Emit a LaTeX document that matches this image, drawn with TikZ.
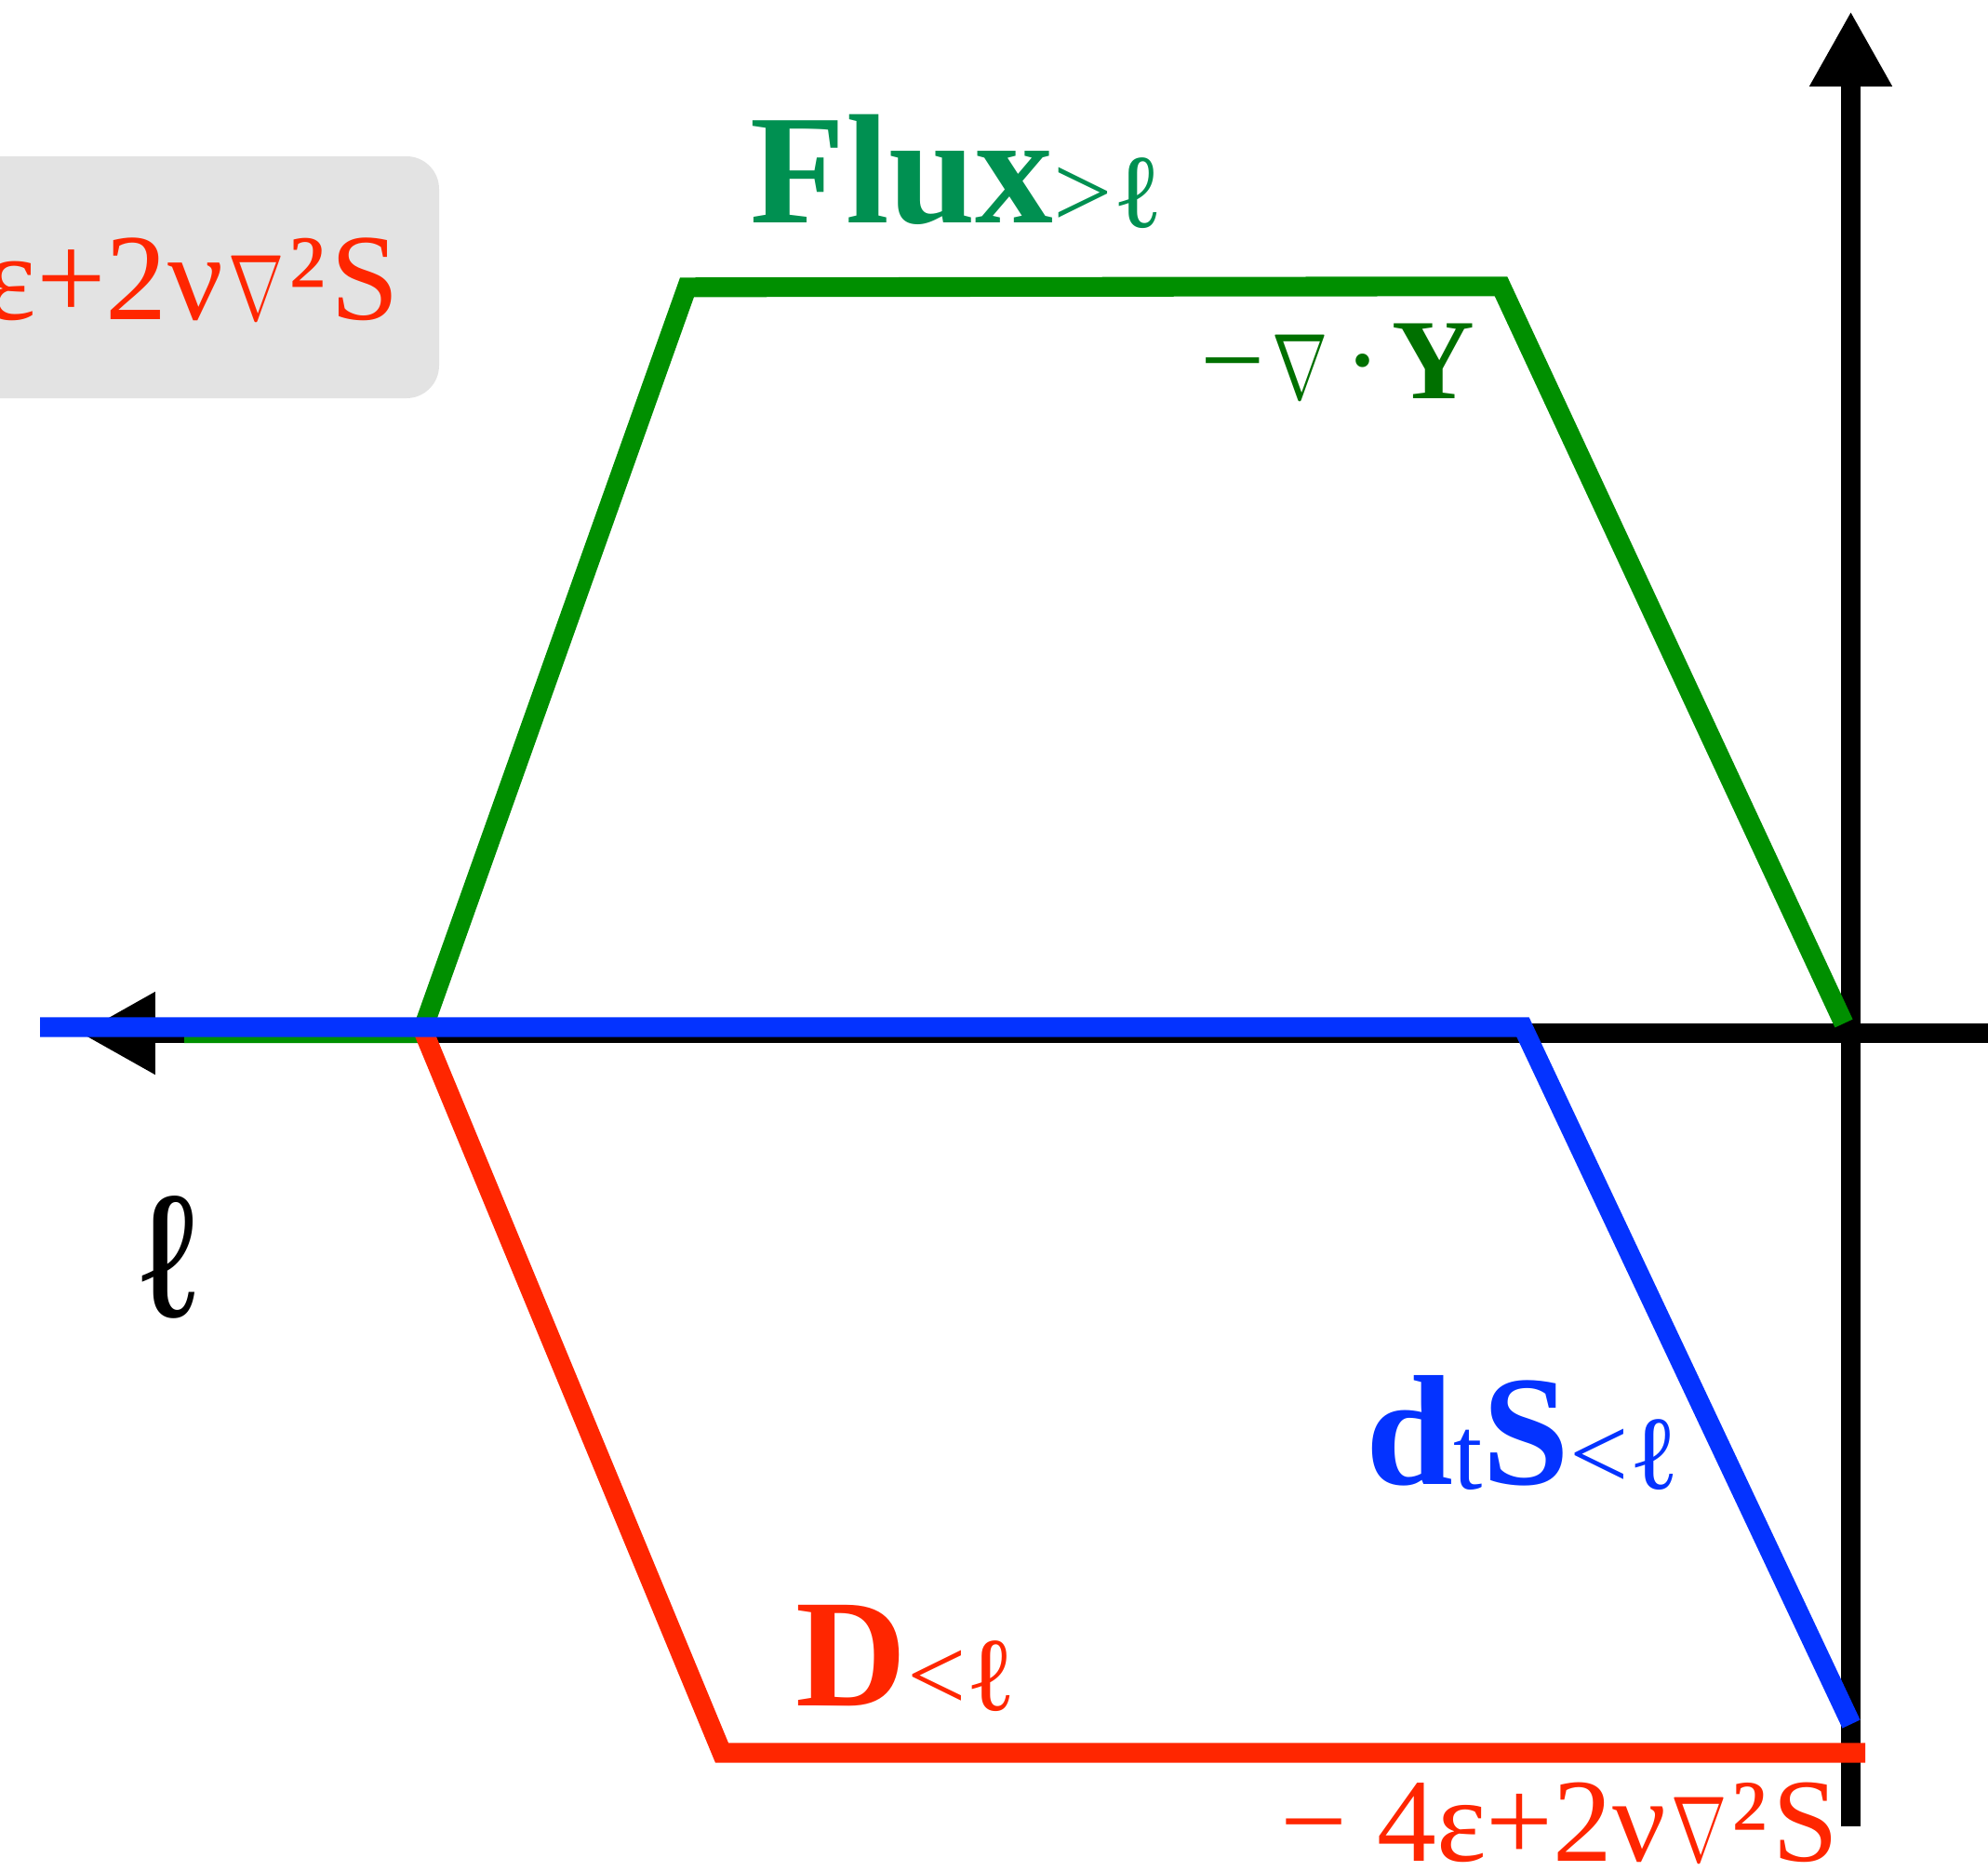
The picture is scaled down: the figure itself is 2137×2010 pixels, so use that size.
\documentclass[tikz,border=0pt]{standalone}
\usepackage{fontspec}
\setmainfont{Liberation Serif}
\newfontfamily\fuenteSans{Liberation Sans}
\usetikzlibrary{arrows.meta}
\definecolor{Rojo}{HTML}{FF2600}
\definecolor{Azul}{HTML}{0433FF}
\definecolor{Verde}{HTML}{008F00}
\definecolor{VerdeFlux}{HTML}{009051}
\definecolor{VerdeOscuro}{HTML}{007000}
\definecolor{Gris}{HTML}{E3E3E3}
\newcommand{\tam}[1]{\fontsize{#1}{#1}\selectfont}
\newcommand{\subind}[1]{\raisebox{-1.5pt}{\normalfont\tam{32}#1}}
\newcommand{\nab}{\scalebox{2.05}[2.85]{\normalsize$\nabla$}}
\newcommand{\lapS}{ν\hspace{1.5pt}\nab\hspace{1.5pt}²\hspace{1.5pt}S}

\begin{document}
\begin{tikzpicture}[
  x=0.1mm,y=-0.1mm,
  eje/.style={line width=6pt,black},
  flecha/.style={-{Triangle[length=23pt,width=23.6pt]}},
  traza/.style={line width=6pt},
  etiqueta/.style={inner sep=0pt}
]
  \useasboundingbox (0,0) rectangle (2137,2010);
  % Caja gris, cortada por el borde izquierdo
  \fill[Gris,rounded corners=10pt] (-150,168) rectangle (472,428);
  \node[etiqueta,text=Rojo,anchor=base east] (caja) at (430,343)
    {\tam{37.7}ε+2\lapS};

  % Ejes
  \draw[eje,flecha] (2160,1110.5)--(86,1110.5);
  \draw[eje,flecha] (1989.5,1963)--(1989.5,12);
  \node[etiqueta] (ell) at (182,1351) {\fuenteSans\tam{53}ℓ};

  % Trazas: flujo (verde), disipacion (rojo), variacion temporal (azul)
  \draw[traza,Verde] (198,1110.5)--(453,1110.5)--(738.5,308.8)
    --(1613.5,307.8)--(1982,1100);
  \draw[traza,Rojo] (455,1108)--(776,1884)--(2005,1884);
  \draw[traza,Azul] (43,1104)--(1637,1104)--(1990,1853);

  % Etiquetas
  \node[etiqueta,text=VerdeFlux,anchor=base west] (flux) at (806,239)
    {\bfseries\tam{47.7}Flux\subind{>ℓ}};
  \node[etiqueta,text=VerdeOscuro,anchor=base west] (divY) at (1290,428)
    {\tam{35}−\hspace{2pt}\nab\hspace{5pt}·\hspace{3pt}\textbf{Y}};
  \node[etiqueta,text=Azul,anchor=base west] (dtS) at (1468,1595)
    {\bfseries\tam{48}d\subind{t}S\subind{<ℓ}};
  \node[etiqueta,text=Rojo,anchor=base west] (D) at (855,1833)
    {\bfseries\tam{47}D\subind{<ℓ}};
  \node[etiqueta,text=Rojo,anchor=base west] (abajo) at (1376,2000)
    {\tam{36.3}− 4ε+2\lapS};
\end{tikzpicture}
\end{document}
